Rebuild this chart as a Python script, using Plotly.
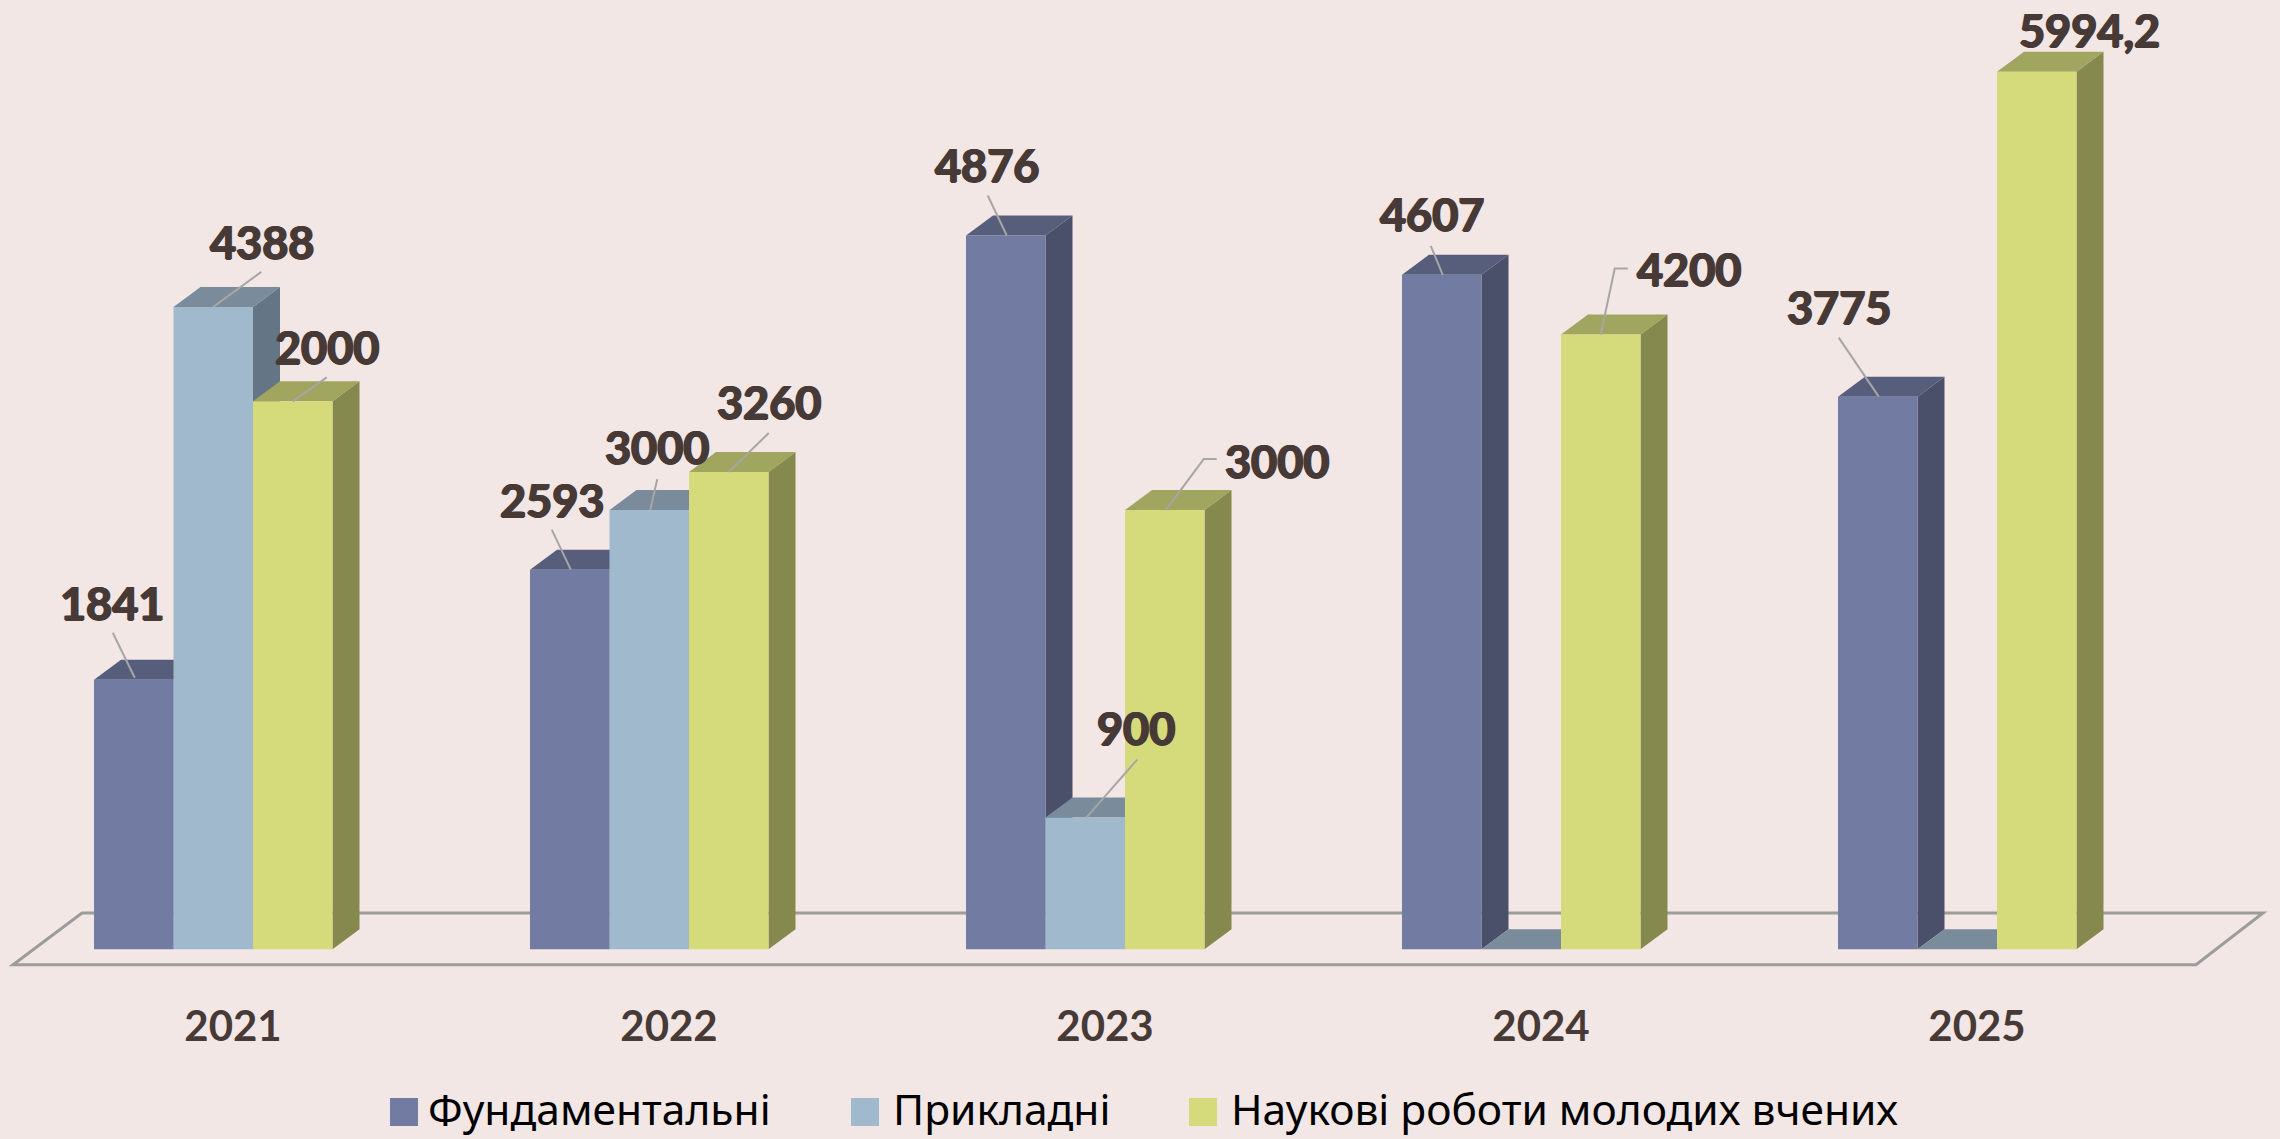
import plotly.graph_objects as go

# ---- data ----
years = ["2021", "2022", "2023", "2024", "2025"]
series_names = ["Фундаментальні", "Прикладні", "Наукові роботи молодих вчених"]
fundamental = [1841, 2593, 4876, 4607, 3775]
applied = [4388, 3000, 900, 0, 0]
# The 2021 bar is drawn much taller than its printed label "2000": height follows the picture
young = [3743, 3260, 3000, 4200, 5994.2]
label_fundamental = ["1841", "2593", "4876", "4607", "3775"]
label_applied = ["4388", "3000", "900", None, None]
label_young = ["2000", "3260", "3000", "4200", "5994,2"]

# ---- styles / layout ----
W, H = 2280, 1139
BG = "#F2E7E5"
TEXT = "#473A36"
FRONT = ["#727BA2", "#A0B9CD", "#D5DB7A"]
SIDE = ["#4A5069", "#647585", "#85894D"]
TOP = ["#575E7C", "#7A8B9B", "#A0A55F"]
SPACING = 436.0
BAR_PX = 79.5
GROUP_LEFT = 94.0
TICK_CENTER = 233.0
BASE_PY = 949.3
PX_PER_VAL = 0.1464
PLOT_BOTTOM = 998.0
DEPTH_X = 27 / SPACING
DEPTH_Y = 20 / PX_PER_VAL
BAR_W = BAR_PX / SPACING
HEAVY = f"1px 0 0 {TEXT}, -1px 0 0 {TEXT}, 0 1px 0 {TEXT}"

values = [fundamental, applied, young]
labels = [label_fundamental, label_applied, label_young]

# label centre offset from bar top-centre, px (right, up)
label_shift = [
    [(-22, 77), (-18, 70), (-19, 70), (-10, 61), (-39, 90)],
    [(49, 65), (8, 63), (51, 90), None, None],
    [(34, 54), (40, 70), (112, 49), (88, 65), (53, 42)],
]
# leader line vertices relative to bar top-centre, px (right, up)
leaders = [
    [[(1, 2), (-21, 47)], [(1, 0), (-18, 40)], [(1, 0), (-18, 40)], [(1, 0), (-11, 29)], [(1, 0), (-39, 59)]],
    [[(0, 0), (48, 35)], [(1, 0), (8, 31)], [(1, 0), (52, 58)], None, None],
    [[(0, 0), (34, 24)], [(0, 0), (40, 39)], [(1, 0), (39, 51), (52, 51)], [(0, 0), (14, 66), (27, 66)], None],
]

fig = go.Figure()
x_idx = list(range(len(years)))
annotations, shapes = [], []


def bar_left(i, s):
    return i + (GROUP_LEFT - TICK_CENTER) / SPACING + s * BAR_W


for s, vals in enumerate(values):
    top_x, top_y, side_x, side_y = [], [], [], []
    for i, v in zip(x_idx, vals):
        l = bar_left(i, s)
        r = l + BAR_W
        top_x += [l, r, r + DEPTH_X, l + DEPTH_X, l, None]
        top_y += [v, v, v + DEPTH_Y, v + DEPTH_Y, v, None]
        side_x += [r, r + DEPTH_X, r + DEPTH_X, r, r, None]
        side_y += [0, DEPTH_Y, v + DEPTH_Y, v, 0, None]
    for fx, fy, col in ((side_x, side_y, SIDE[s]), (top_x, top_y, TOP[s])):
        fig.add_trace(go.Scatter(x=fx, y=fy, mode="lines", fill="toself", fillcolor=col,
                                 line=dict(width=0), hoverinfo="skip", showlegend=False,
                                 zorder=2 * s))
    fig.add_trace(go.Bar(x=x_idx, y=vals, name=series_names[s], width=BAR_W,
                         offset=(GROUP_LEFT - TICK_CENTER) / SPACING + s * BAR_W,
                         marker=dict(color=FRONT[s], line=dict(width=0)),
                         showlegend=False, zorder=2 * s + 1))
    for i, v in zip(x_idx, vals):
        cx = bar_left(i, s) + BAR_W / 2
        if labels[s][i] is not None:
            dx, dy = label_shift[s][i]
            annotations.append(dict(x=cx, y=v, xref="x", yref="y", text=labels[s][i],
                                    showarrow=False, xanchor="center", yanchor="middle",
                                    xshift=dx, yshift=dy,
                                    font=dict(family="Lato", size=45, color=TEXT, weight=700, shadow=HEAVY)))
        if leaders[s][i]:
            path = "M " + " L ".join(f"{a} {b}" for a, b in leaders[s][i])
            shapes.append(dict(type="path", path=path, xref="x", yref="y",
                               xsizemode="pixel", ysizemode="pixel", xanchor=cx, yanchor=v,
                               line=dict(color="#A6A6A6", width=2), layer="above"))

# floor plate
fx = [13, 2196, 2263, 82, 13]
fy = [964.7, 964.7, 913, 913, 964.7]
floor_path = "M " + " L ".join(f"{a / W} {1 - b / PLOT_BOTTOM}" for a, b in zip(fx, fy)) + " Z"
shapes.append(dict(type="path", path=floor_path, xref="paper", yref="paper",
                   line=dict(color="#9C9C9C", width=3), layer="below"))

# legend drawn at the reference's position and size
legend_swatch_x = [390, 851, 1189]
legend_text_x = [426, 891, 1229]
for s, name in enumerate(series_names):
    shapes.append(dict(type="rect", xref="paper", yref="paper",
                       x0=legend_swatch_x[s] / W, x1=(legend_swatch_x[s] + 28) / W,
                       y0=1 - 1126 / PLOT_BOTTOM, y1=1 - 1098 / PLOT_BOTTOM,
                       fillcolor=FRONT[s], line=dict(width=0)))
    annotations.append(dict(x=legend_text_x[s] / W, y=1 - 1108 / PLOT_BOTTOM, xref="paper", yref="paper",
                            text=name, showarrow=False, xanchor="left", yanchor="middle",
                            font=dict(family="Noto Sans", size=42.5, color="#000000")))

fig.update_layout(
    width=W, height=H, margin=dict(l=0, r=0, t=0, b=H - PLOT_BOTTOM),
    paper_bgcolor=BG, plot_bgcolor=BG, barmode="overlay", showlegend=False,
    annotations=annotations, shapes=shapes,
    xaxis=dict(range=[-TICK_CENTER / SPACING, (W - TICK_CENTER) / SPACING],
               tickmode="array", tickvals=x_idx, ticktext=years,
               tickfont=dict(family="Lato", size=42, color=TEXT, weight=700),
               showgrid=False, zeroline=False, showline=False, ticks=""),
    yaxis=dict(range=[(BASE_PY - PLOT_BOTTOM) / PX_PER_VAL, BASE_PY / PX_PER_VAL],
               visible=False, showgrid=False, zeroline=False),
)
fig.write_html("out.html", config=dict(displayModeBar=False),
               post_script="document.body.style.margin='0';document.body.style.overflow='hidden';document.body.style.background='%s';" % BG)
